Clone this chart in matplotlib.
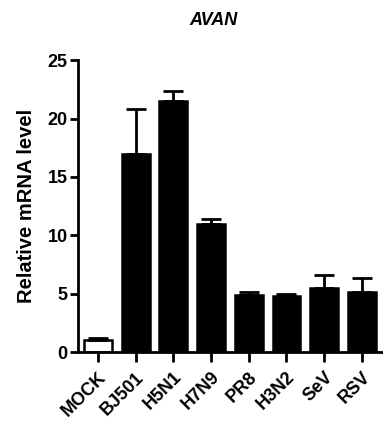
import matplotlib
matplotlib.use("Agg")
import matplotlib.pyplot as plt
import numpy as np

categories = ["MOCK", "BJ501", "H5N1", "H7N9", "PR8", "H3N2", "SeV", "RSV"]
values = [1.05, 17.0, 21.5, 10.95, 4.9, 4.8, 5.5, 5.15]
errors = [0.15, 3.8, 0.9, 0.45, 0.25, 0.15, 1.1, 1.2]
yticks = [0, 5, 10, 15, 20, 25]

plt.rcParams['font.family'] = ['Liberation Sans', 'DejaVu Sans']

fig = plt.figure(figsize=(3.83, 4.26), dpi=100)
ax = fig.add_axes([0.2037, 0.1737, 0.7963, 0.685])

x = np.arange(len(categories))
colors = ['white'] + ['black'] * (len(categories) - 1)
ax.bar(x, values, width=0.74, color=colors, edgecolor='black', linewidth=1.8, zorder=2)
ax.errorbar(x, values, yerr=[np.zeros(len(errors)), errors], fmt='none',
            ecolor='black', elinewidth=2, capsize=7.5, capthick=2, zorder=3)

ax.set_xlim(-0.53, 7.56)
ax.set_ylim(0, 25)
ax.set_yticks(yticks)
ax.set_yticklabels([str(t) for t in yticks], fontsize=13, fontweight='bold')
ax.set_xticks(x)
ax.set_xticklabels(categories, rotation=45, ha='right', rotation_mode='anchor',
                   fontsize=13, fontweight='bold')
for s in ['top', 'right']:
    ax.spines[s].set_visible(False)
for s in ['left', 'bottom']:
    ax.spines[s].set_linewidth(2)
ax.tick_params(axis='y', width=2, length=5.5, pad=2)
ax.tick_params(axis='x', width=2, length=7, pad=5)
ax.set_ylabel("Relative mRNA level", fontsize=14.5, fontweight='bold', labelpad=8)
fig.text(0.557, 0.953, "AVAN", ha='center', va='center', fontsize=13,
         fontweight='bold', fontstyle='italic')

fig.savefig("out.png", dpi=100)
